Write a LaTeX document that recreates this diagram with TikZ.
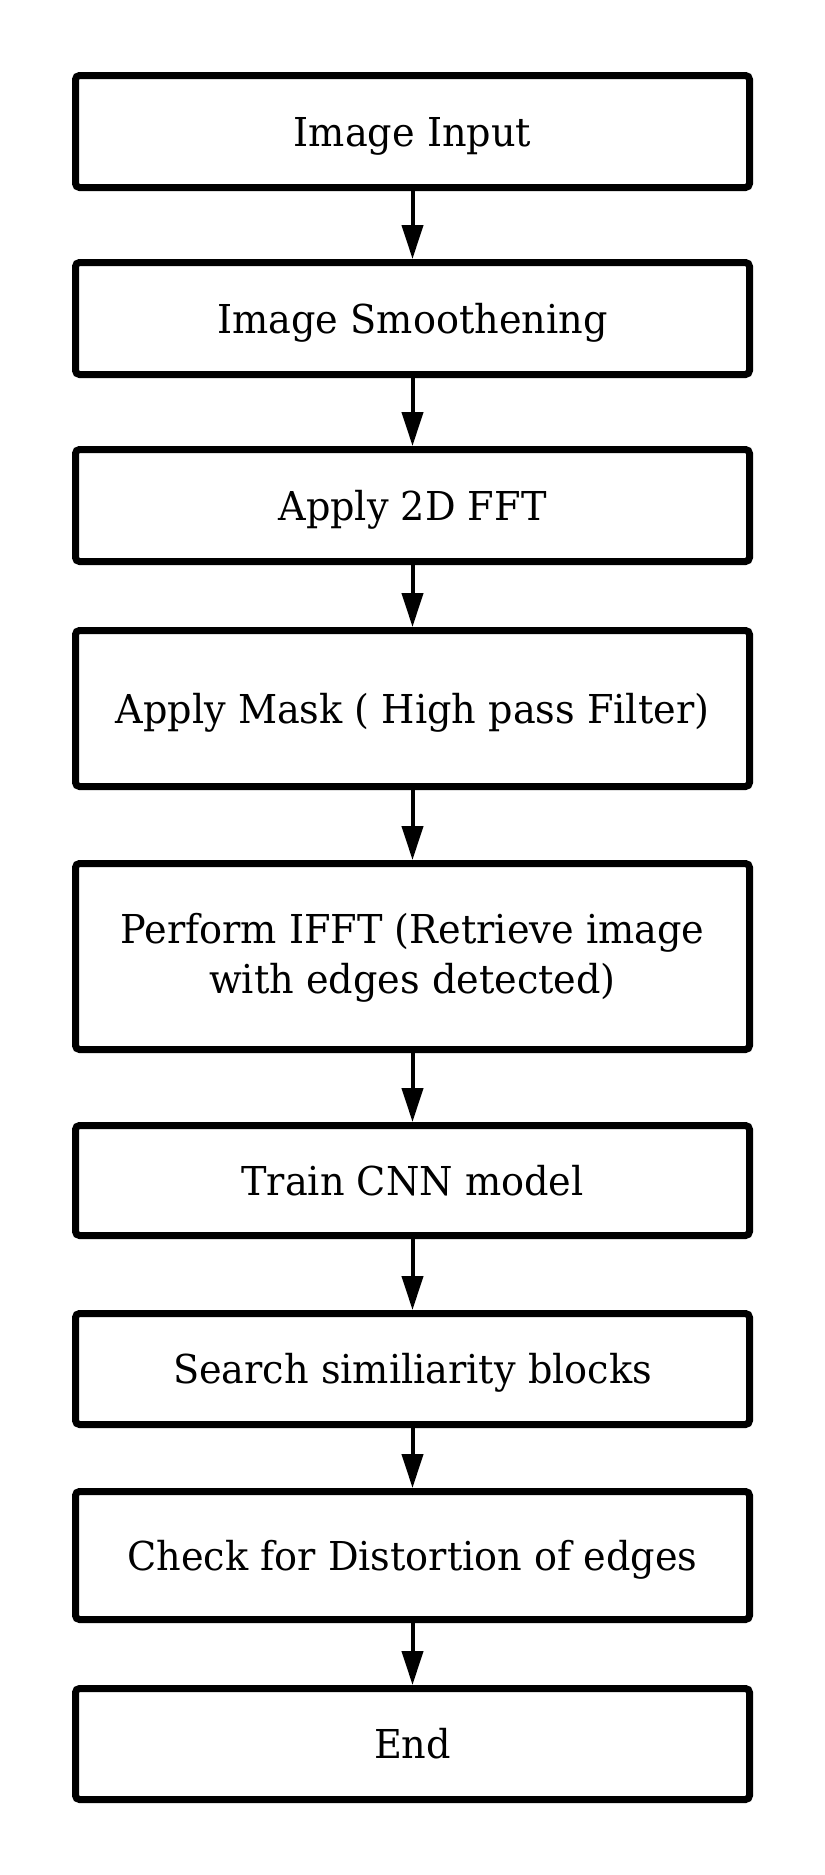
\documentclass[tikz,border=0pt]{standalone}
\usepackage{fontspec}
\setmainfont[FakeStretch=0.96]{DejaVu Serif}
\usetikzlibrary{arrows.meta}
\begin{document}
\begin{tikzpicture}[x=0.5pt,y=-0.5pt,
  stepbox/.style={draw=black, line width=3.5pt, rounded corners=2pt, fill=white,
    minimum width=337pt, inner sep=0pt, align=center,
    font=\fontsize{19.9pt}{25pt}\selectfont},
  oneline/.style={text height=14.5pt, text depth=0pt},
  twoline/.style={text height=39.5pt, text depth=3pt},
  flow/.style={line width=2pt, -{Triangle[length=17pt,width=10.5pt]}}]
\useasboundingbox (0,0) rectangle (825,1875);
\node[stepbox, oneline, minimum height=56pt] (b1) at (412.5,131.5) {Image Input};
\node[stepbox, oneline, minimum height=56pt] (b2) at (412.5,318.5) {Image Smoothening};
\node[stepbox, oneline, minimum height=56pt] (b3) at (412.5,505.5) {Apply 2D FFT};
\node[stepbox, oneline, minimum height=78pt] (b4) at (412.5,708.5) {Apply Mask ( High pass Filter)};
\node[stepbox, twoline, minimum height=93pt] (b5) at (412.5,956.5) {Perform IFFT (Retrieve image\\with edges detected)};
\node[stepbox, oneline, minimum height=55pt] (b6) at (412.5,1180.5) {Train CNN model};
\node[stepbox, oneline, minimum height=55.5pt] (b7) at (412.5,1369) {Search similiarity blocks};
\node[stepbox, oneline, minimum height=64pt] (b8) at (412.5,1555.5) {Check for Distortion of edges};
\node[stepbox, oneline, minimum height=55.5pt] (b9) at (412.5,1744) {End};
\foreach \a/\b in {b1/b2,b2/b3,b3/b4,b4/b5,b5/b6,b6/b7,b7/b8,b8/b9}
  \draw[flow] (\a.south) -- (\b.north);
\end{tikzpicture}
\end{document}
